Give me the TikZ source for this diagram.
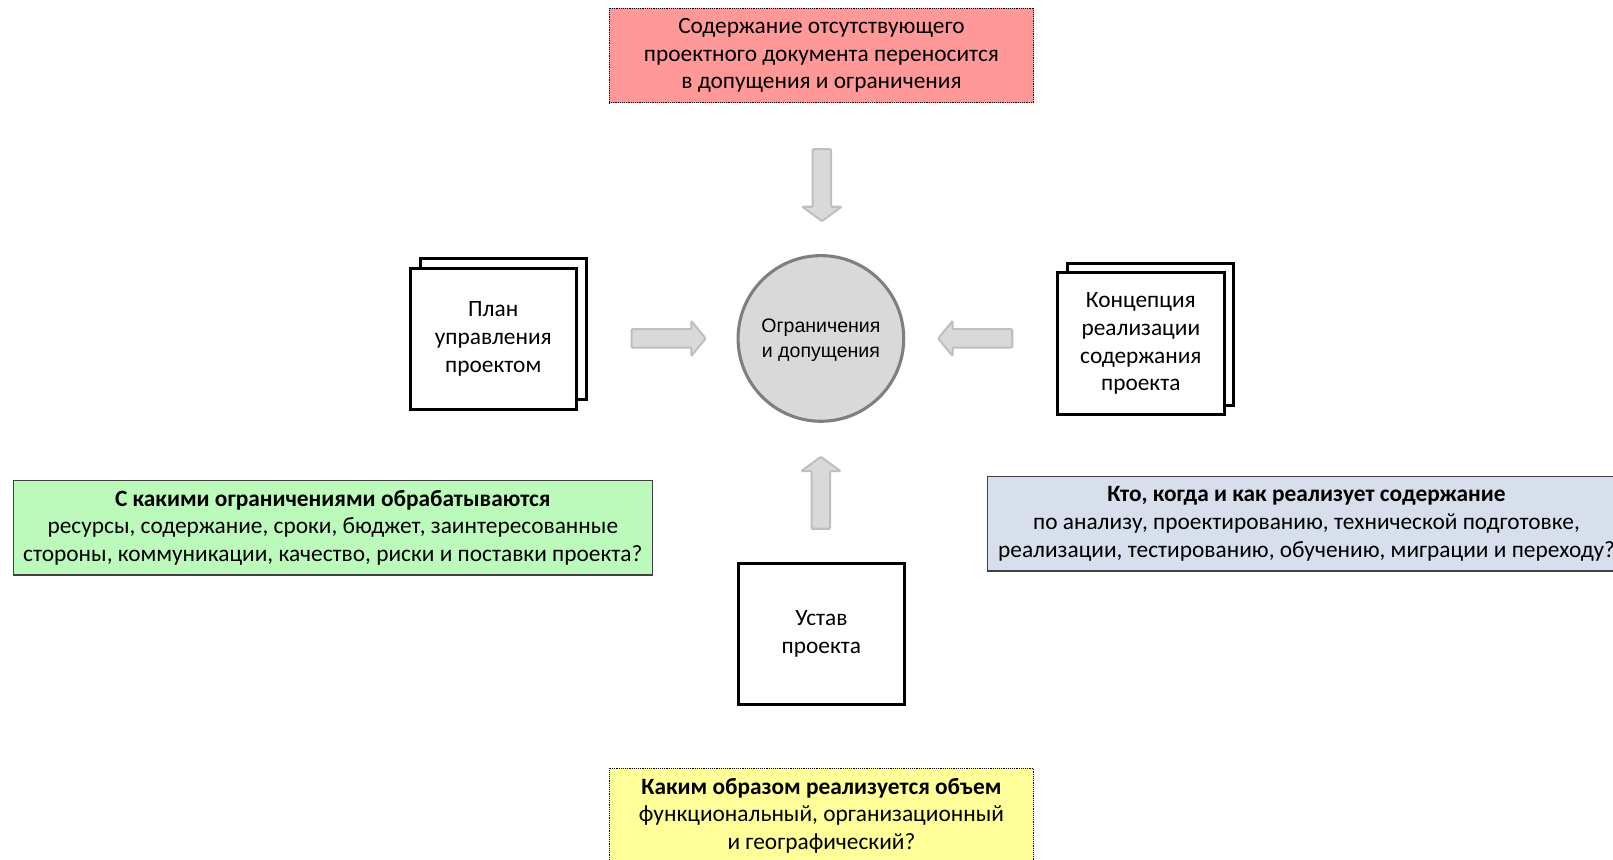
\documentclass[tikz,border=0pt]{standalone}
\usepackage{fontspec}
\setmainfont{Carlito}
\newfontfamily\arialf{Liberation Sans}
\definecolor{redfill}{HTML}{FF9999}
\definecolor{greenfill}{HTML}{BCFABC}
\definecolor{bluefill}{HTML}{D6DFEB}
\definecolor{yellowfill}{HTML}{FFFF99}
\definecolor{arrfill}{HTML}{D9D9D9}
\definecolor{arrdraw}{HTML}{BFBFBF}
\definecolor{circdraw}{HTML}{7F7F7F}
\begin{document}
\begin{tikzpicture}[x=1pt,y=-1pt,
  txt/.style={align=center,font=\fontsize{22.7}{27}\selectfont,text=black},
  notebox/.style={txt,draw=black,line width=0.8pt,densely dotted,inner sep=0pt},
  qbox/.style={txt,draw=black!75,line width=1.2pt,inner sep=0pt},
  docbox/.style={txt,draw=black,line width=3pt,fill=white,minimum width=161pt,minimum height=137pt,inner sep=0pt},
  blockarrow/.style={fill=arrfill,draw=arrdraw,line width=2pt,rounded corners=1pt},
  circ/.style={circle,draw=circdraw,fill=arrfill,line width=3pt,minimum size=161pt,inner sep=0pt,align=center,font=\arialf\fontsize{19}{24}\selectfont}
]
\useasboundingbox (0,0) rectangle (1568,836);

% top note
\node[notebox,fill=redfill,minimum width=413pt,minimum height=92pt] (note) at (798.5,54) {Содержание отсутствующего\\проектного документа переносится\\в допущения и ограничения};

% center circle
\node[circ] (center) at (798,329) {};
\node[align=center,font=\arialf\fontsize{19}{24}\selectfont] (centertext) at (798,331) {Ограничения\\и допущения};

% left document
\node[docbox,minimum width=161pt] (planback) at (489.5,319.5) {};
\node[docbox] (plan) at (479.5,329.5) {План\\управления\\проектом};

% right document
\node[docbox,minimum width=161pt,minimum height=138pt] (concback) at (1118.5,325) {};
\node[docbox,minimum width=162pt,minimum height=138pt] (conc) at (1109,334) {Концепция\\реализации\\содержания\\проекта};

% bottom charter
\node[docbox] (charter) at (798.5,616) {Устав\\проекта};

% question boxes
\node[qbox,fill=greenfill,minimum width=621pt,minimum height=92pt] (green) at (323.5,513) {\textbf{С какими ограничениями обрабатываются}\\ресурсы, содержание, сроки, бюджет, заинтересованные\\стороны, коммуникации, качество, риски и поставки проекта?};
\node[qbox,fill=bluefill,minimum width=620pt,minimum height=92pt] (blue) at (1270,509) {\textbf{Кто, когда и как реализует содержание}\\по анализу, проектированию, технической подготовке,\\реализации, тестированию, обучению, миграции и переходу?};
\node[notebox,fill=yellowfill,minimum width=413pt,minimum height=92pt] (yellow) at (798.5,793) {\textbf{Каким образом реализуется объем}\\функциональный, организационный\\и географический?};

% block arrows
\coordinate (atop) at (799,145);
\coordinate (aleft) at (614,329);
\coordinate (aright) at (984,329);
\coordinate (abot) at (798,514);
\draw[blockarrow] (atop) ++(-9,0) -- ++(0,56) -- ++(-10,0) -- ++(19,14) -- ++(19,-14) -- ++(-10,0) -- ++(0,-56) -- cycle;
\draw[blockarrow] (aleft) ++(0,-9) -- ++(58,0) -- ++(0,-8) -- ++(14,17) -- ++(-14,17) -- ++(0,-8) -- ++(-58,0) -- cycle;
\draw[blockarrow] (aright) ++(0,-9) -- ++(-58,0) -- ++(0,-8) -- ++(-14,17) -- ++(14,17) -- ++(0,-8) -- ++(58,0) -- cycle;
\draw[blockarrow] (abot) ++(-9,0) -- ++(0,-56) -- ++(-10,0) -- ++(19,-14) -- ++(19,14) -- ++(-10,0) -- ++(0,56) -- cycle;
\end{tikzpicture}
\end{document}
